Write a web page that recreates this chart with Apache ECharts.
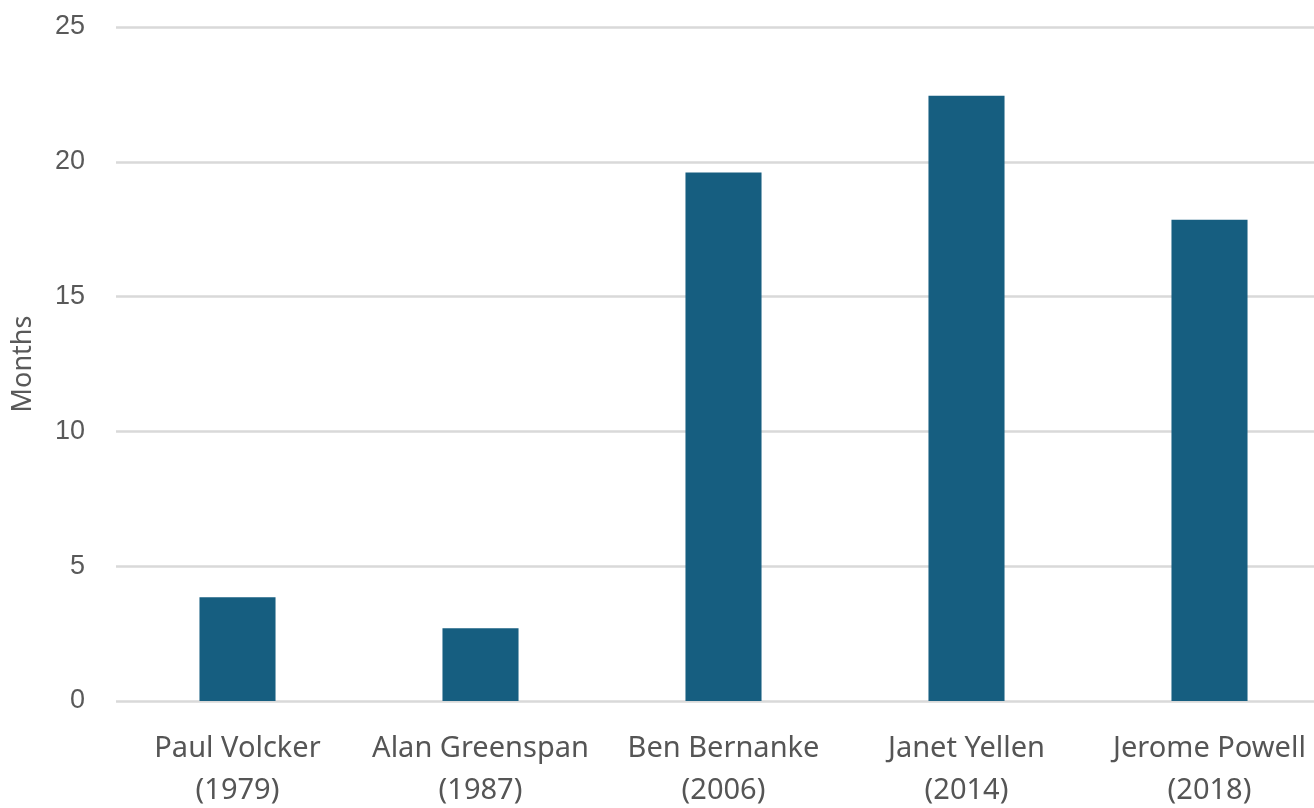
<!DOCTYPE html>
<html>
<head>
<meta charset="utf-8">
<script src="https://cdn.jsdelivr.net/npm/echarts@6/dist/echarts.min.js"></script>
<style>
  html, body { margin: 0; padding: 0; background: #ffffff; overflow: hidden; }
  #chart { width: 1314px; height: 808px; }
</style>
</head>
<body>
<div id="chart"></div>
<script>
// Fed chairs and the year their tightening cycle began
const categories = [
  'Paul Volcker\n(1979)',
  'Alan Greenspan\n(1987)',
  'Ben Bernanke\n(2006)',
  'Janet Yellen\n(2014)',
  'Jerome Powell\n(2018)'
];
// Duration in months
const months = [3.85, 2.7, 19.6, 22.45, 17.85];
const yTicks = { min: 0, max: 25, interval: 5 };

const chart = echarts.init(document.getElementById('chart'));
chart.setOption({
  animation: false,
  // plot area runs slightly past the right edge, clipping the last label
  grid: {
    left: 116, width: 1215, top: 27, bottom: 107,
    containLabel: false,
    outerBoundsMode: 'none'
  },
  xAxis: {
    type: 'category',
    data: categories,
    axisLine: { show: false },
    axisTick: { show: false },
    axisLabel: {
      color: '#555555',
      fontFamily: 'Noto Sans',
      fontSize: 29,
      lineHeight: 42,
      margin: 27,
      interval: 0
    }
  },
  yAxis: {
    type: 'value',
    min: yTicks.min,
    max: yTicks.max,
    interval: yTicks.interval,
    name: 'Months',
    nameLocation: 'middle',
    nameGap: 79,
    nameRotate: 90,
    nameTextStyle: { color: '#595959', fontFamily: 'Noto Sans', fontSize: 27 },
    axisLine: { show: false },
    axisTick: { show: false },
    axisLabel: {
      color: '#595959',
      fontFamily: 'Liberation Sans',
      fontSize: 27,
      margin: 31
    },
    splitLine: { lineStyle: { color: '#d9d9d9', width: 2.5 } }
  },
  series: [{
    type: 'bar',
    data: months,
    barWidth: '31.3%',
    itemStyle: { color: '#165e80' }
  }]
});
</script>
</body>
</html>
